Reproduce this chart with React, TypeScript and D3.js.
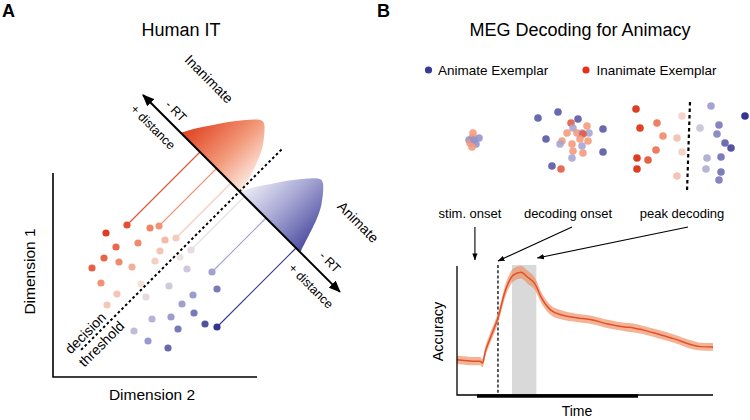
import React from 'react';
import * as d3 from 'd3';

const FONT = "'Liberation Sans', Arial, Helvetica, sans-serif";

// ---------------- Panel A data (Dimension 2, Dimension 1) ----------------
const inanimatePoints: [number, number][] = [
  [74, 152], [53, 144], [97, 149], [106, 151], [63, 130], [85, 134], [112, 137], [123, 139],
  [51, 119], [66, 115], [107, 126], [39, 109], [79, 110], [102, 116], [48, 94], [88, 93],
  [64, 83], [54, 72],
];
const animatePoints: [number, number][] = [
  [138, 127], [127, 120], [134, 108], [116, 91], [93, 80], [159, 105], [164, 88], [140, 82],
  [129, 73], [141, 64], [99, 58], [118, 60], [125, 48], [152, 53], [164, 50], [81, 46],
  [95, 36], [115, 29],
];
const inanimateLinked: [number, number][] = [[74, 152], [106, 151], [123, 139]];
const animateLinked: [number, number][] = [[138, 127], [159, 105], [164, 50]];
// distribution profile: [distance along axis, density height]
const distProfile: [number, number][] = [
  [0, 0], [8, 14.4], [17.4, 28.5], [26.9, 42.6], [37.5, 55.6], [43, 61.9], [46.9, 65.1],
  [50.1, 66.1], [53.5, 64.6], [57.2, 61.2], [61.6, 56.1], [69.4, 45], [75.2, 32.1],
  [80, 17.9], [84.6, 3.7], [86, 0],
];
const inanimateDistStart = -83;
const animateDistStart = 0;
const axisExtent: [number, number] = [-136.5, 142];
const thresholdExtent: [number, number] = [-224, 60]; // perpendicular extent of the decision threshold

// ---------------- Panel B data ----------------
// [x, y, shade]  shade: -1 inanimate (red) ... +1 animate (blue)
const earlyCluster: [number, number, number][] = [
  [22, 38, -0.5], [19, 40, 0.55], [23, 33, -0.5], [26, 44, 0.55], [20, 43, -0.5],
  [24, 40, 0.55], [22, 47, -0.5], [29, 38, 0.55],
];
const midCluster: [number, number, number][] = [
  [88, 18, 0.85], [108, 12, 0.85], [128, 19, 0.85], [96, 39, 0.85], [153, 29, 0.85],
  [153, 52, 0.85], [102, 66, 0.85],
  [121, 23, -0.85], [111, 69, -0.85],
  [123, 28, 0.45], [137, 26, -0.5], [117, 33, -0.5], [127, 33, -0.5], [132, 33, 0.45],
  [139, 33, 0.45], [133, 34, -0.85], [112, 41, -0.5], [130, 39, -0.5], [138, 41, -0.5],
  [110, 44, 0.45], [122, 44, -0.5], [132, 46, 0.45], [123, 51, -0.5], [133, 53, -0.5],
  [122, 58, 0.45],
];
const lateInanimate: [number, number][] = [
  [186, 9], [190, 28], [207, 23], [213, 36], [206, 50], [187, 58], [198, 60], [187, 69],
  [232, 16], [227, 38], [232, 52], [227, 76],
];
const lateAnimate: [number, number][] = [
  [261, 6], [295, 16], [250, 28], [269, 25], [267, 34], [275, 43], [281, 48], [257, 58],
  [271, 57], [256, 69], [271, 72], [269, 80],
];
const lateBoundary: [number, number][] = [[240, 2], [237, 92]];

const timeMs = [-70, -40, -10, 20, 30, 40, 60, 90, 120, 150, 180, 205, 235, 260, 295, 340, 390, 420, 455, 520, 585, 620, 655, 715, 780, 850, 880, 930];
const accuracy = [50.9, 50.7, 50.5, 50.5, 49.9, 53.3, 57.7, 63.9, 72.6, 77.2, 78.1, 76.6, 74.4, 70.1, 66.4, 64.8, 64.0, 63.7, 63.3, 62.0, 61.1, 60.8, 60.2, 58.9, 57.4, 55.5, 55.0, 54.9];
const accErr = [1.3, 1.3, 1.3, 1.3, 1.3, 1.5, 1.6, 1.7, 1.9, 2.0, 2.0, 2.0, 1.9, 1.7, 1.5, 1.4, 1.3, 1.3, 1.3, 1.3, 1.3, 1.4, 1.3, 1.3, 1.3, 1.3, 1.2, 1.2];
const stimBar: [number, number] = [8, 637];
const stimOnset = 0;
const decodingOnset = 90;
const peakWindow: [number, number] = [145, 240];

const shade = d3
  .scaleLinear<string>()
  .domain([-1, -0.5, 0, 0.5, 1])
  .range(['#df3d21', '#f2987a', '#f6ebe7', '#9c9cd0', '#35358f'])
  .clamp(true);

export default function App() {
  // ---------- Panel A scales ----------
  const xA = d3.scaleLinear().domain([0, 204]).range([53, 257]);
  const yA = d3.scaleLinear().domain([0, 204]).range([377, 173]);
  const SQ = Math.SQRT1_2;
  const proj = (s: number, h: number): [number, number] => [186.5 + (s + h) * SQ, 185.5 + (h - s) * SQ];
  const sOf = (p: [number, number]) => (p[0] - p[1] - 1) * SQ;
  const px = (p: [number, number]): [number, number] => [xA(p[0]), yA(p[1])];
  const colA = (p: [number, number]) => {
    const s = sOf(p);
    return shade(s < 0 ? s / 62 : s / 80);
  };
  const distPath = (start: number) => {
    const pts = distProfile.map(([u, h]) => px(proj(start + u, h)));
    return (d3.line().curve(d3.curveCatmullRom)(pts) || '') + 'Z';
  };
  const rStart = px(proj(inanimateDistStart, 0));
  const rEnd = px(proj(inanimateDistStart + 87, 0));
  const bStart = px(proj(animateDistStart, 0));
  const bEnd = px(proj(animateDistStart + 86, 0));
  const axA0 = px(proj(axisExtent[0], 0));
  const axA1 = px(proj(axisExtent[1], 0));
  const th0 = px(proj(0, thresholdExtent[0]));
  const th1 = px(proj(0, thresholdExtent[1]));

  // ---------- Panel B scales ----------
  const xB = d3.scaleLinear().domain([0, 300]).range([450, 750]);
  const yB = d3.scaleLinear().domain([0, 100]).range([100, 200]);
  const lateShade = (x: number) => shade((x - 238.5) / 50);

  const xT = d3.scaleLinear().domain([-70, 930]).range([457, 713]);
  const yAcc = d3.scaleLinear().domain([40, 80]).range([395, 266]);
  const lineGen = d3
    .line<number>()
    .x((_, i) => xT(timeMs[i]))
    .y((d) => yAcc(d))
    .curve(d3.curveMonotoneX);
  const areaGen = d3
    .area<number>()
    .x((_, i) => xT(timeMs[i]))
    .y0((d, i) => yAcc(d - accErr[i]))
    .y1((d, i) => yAcc(d + accErr[i]))
    .curve(d3.curveMonotoneX);

  const plotTop = yAcc.range()[1];
  const plotBottom = yAcc.range()[0];

  return (
    <svg
      width={750}
      height={420}
      viewBox="0 0 750 420"
      style={{ position: 'absolute', left: 0, top: 0, background: '#fff' }}
      fontFamily={FONT}
    >
      <defs>
        <marker id="bigHead" viewBox="0 0 12 10" refX="11" refY="5" markerWidth="12" markerHeight="10" markerUnits="userSpaceOnUse" orient="auto-start-reverse">
          <path d="M0,0 L12,5 L0,10 Z" fill="#000" />
        </marker>
        <marker id="smallHead" viewBox="0 0 8 6" refX="7.5" refY="3" markerWidth="7" markerHeight="6" markerUnits="userSpaceOnUse" orient="auto">
          <path d="M0,0 L8,3 L0,6 Z" fill="#000" />
        </marker>
        <linearGradient id="redGrad" gradientUnits="userSpaceOnUse" x1={rStart[0]} y1={rStart[1]} x2={rEnd[0]} y2={rEnd[1]}>
          <stop offset="0" stopColor="#e0401f" />
          <stop offset="0.55" stopColor="#f29878" />
          <stop offset="1" stopColor="#fdf0ea" />
        </linearGradient>
        <linearGradient id="blueGrad" gradientUnits="userSpaceOnUse" x1={bStart[0]} y1={bStart[1]} x2={bEnd[0]} y2={bEnd[1]}>
          <stop offset="0" stopColor="#eeeef8" />
          <stop offset="0.5" stopColor="#9d9dd0" />
          <stop offset="1" stopColor="#3e3e98" />
        </linearGradient>
      </defs>

      {/* ================= Panel A ================= */}
      <text x={2} y={17} fontSize={18} fontWeight="bold">A</text>
      <text x={181} y={36} fontSize={18} textAnchor="middle">Human IT</text>

      {/* projection lines */}
      {inanimateLinked.concat(animateLinked).map((p, i) => {
        const a = px(p);
        const b = px(proj(sOf(p), 0));
        return <line key={'pl' + i} x1={a[0]} y1={a[1]} x2={b[0]} y2={b[1]} stroke={colA(p)} strokeWidth={1.1} />;
      })}

      {/* distributions */}
      <path d={distPath(inanimateDistStart)} fill="url(#redGrad)" />
      <path d={distPath(animateDistStart)} fill="url(#blueGrad)" opacity={0.92} />

      {/* projection axis */}
      <line x1={axA0[0]} y1={axA0[1]} x2={axA1[0]} y2={axA1[1]} stroke="#000" strokeWidth={2} markerStart="url(#bigHead)" markerEnd="url(#bigHead)" />

      {/* dots */}
      {inanimatePoints.map((p, i) => (
        <circle key={'ri' + i} cx={xA(p[0])} cy={yA(p[1])} r={3.6} fill={colA(p)} />
      ))}
      {animatePoints.map((p, i) => (
        <circle key={'ba' + i} cx={xA(p[0])} cy={yA(p[1])} r={3.6} fill={colA(p)} />
      ))}

      {/* decision threshold */}
      <line x1={th0[0]} y1={th0[1]} x2={th1[0]} y2={th1[1]} stroke="#000" strokeWidth={2} strokeDasharray="2.6,2.6" />

      {/* axes */}
      <path d={`M${xA(0)},${yA(204)} V${yA(0)} H${xA(204)}`} fill="none" stroke="#000" strokeWidth={1.6} />
      <text transform="translate(35,271.5) rotate(-90)" fontSize={15.5} textAnchor="middle">Dimension 1</text>
      <text x={152} y={400} fontSize={15.5} textAnchor="middle">Dimension 2</text>

      {/* rotated labels */}
      <text transform="translate(209,79) rotate(45)" fontSize={14} textAnchor="middle" dy="0.35em">Inanimate</text>
      <text transform="translate(176,111) rotate(45)" fontSize={12.5} textAnchor="middle" dy="0.35em">- RT</text>
      <text transform="translate(153,127) rotate(45)" fontSize={12.5} textAnchor="middle" dy="0.35em">+ distance</text>
      <text transform="translate(358,222) rotate(45)" fontSize={14} textAnchor="middle" dy="0.35em">Animate</text>
      <text transform="translate(330,262) rotate(45)" fontSize={12.5} textAnchor="middle" dy="0.35em">- RT</text>
      <text transform="translate(311,286) rotate(45)" fontSize={12.5} textAnchor="middle" dy="0.35em">+ distance</text>
      <text transform="translate(85.5,333) rotate(-45)" fontSize={14} textAnchor="middle" dy="0.35em">decision</text>
      <text transform="translate(101.5,344) rotate(-45)" fontSize={14} textAnchor="middle" dy="0.35em">threshold</text>

      {/* ================= Panel B ================= */}
      <text x={377} y={17} fontSize={18} fontWeight="bold">B</text>
      <text x={580} y={36} fontSize={18} textAnchor="middle">MEG Decoding for Animacy</text>

      {/* legend */}
      <circle cx={428.5} cy={70} r={3.6} fill="#3a3a95" />
      <text x={438} y={74.5} fontSize={13.5}>Animate Exemplar</text>
      <circle cx={586} cy={70} r={3.6} fill="#e2301d" />
      <text x={596.5} y={74.5} fontSize={13.5}>Inanimate Exemplar</text>

      {/* clusters */}
      {earlyCluster.map((d, i) => (
        <circle key={'e' + i} cx={xB(d[0])} cy={yB(d[1])} r={3.8} fill={shade(d[2])} opacity={0.88} />
      ))}
      {midCluster.map((d, i) => (
        <circle key={'m' + i} cx={xB(d[0])} cy={yB(d[1])} r={3.8} fill={shade(d[2])} opacity={0.88} />
      ))}
      {lateInanimate.map((d, i) => (
        <circle key={'li' + i} cx={xB(d[0])} cy={yB(d[1])} r={3.8} fill={lateShade(d[0])} />
      ))}
      {lateAnimate.map((d, i) => (
        <circle key={'la' + i} cx={xB(d[0])} cy={yB(d[1])} r={3.8} fill={lateShade(d[0])} />
      ))}
      <line
        x1={xB(lateBoundary[0][0])} y1={yB(lateBoundary[0][1])}
        x2={xB(lateBoundary[1][0])} y2={yB(lateBoundary[1][1])}
        stroke="#000" strokeWidth={2.2} strokeDasharray="3.5,3"
      />

      {/* event labels and arrows */}
      <text x={470} y={218} fontSize={13} textAnchor="middle">stim. onset</text>
      <text x={568} y={218} fontSize={13} textAnchor="middle">decoding onset</text>
      <text x={682} y={218} fontSize={13} textAnchor="middle">peak decoding</text>
      <line x1={xT(stimOnset)} y1={227} x2={xT(stimOnset)} y2={260} stroke="#000" strokeWidth={1.1} markerEnd="url(#smallHead)" />
      <line x1={572} y1={227} x2={xT(decodingOnset)} y2={261} stroke="#000" strokeWidth={1.1} markerEnd="url(#smallHead)" />
      <line x1={688} y1={227} x2={xT(peakWindow[1]) + 1} y2={258} stroke="#000" strokeWidth={1.1} markerEnd="url(#smallHead)" />

      {/* accuracy plot */}
      <rect x={xT(peakWindow[0])} y={plotTop - 1} width={xT(peakWindow[1]) - xT(peakWindow[0])} height={plotBottom - plotTop + 1} fill="#d9d9d9" />
      <line x1={xT(decodingOnset)} y1={plotTop - 1} x2={xT(decodingOnset)} y2={plotBottom} stroke="#000" strokeWidth={1.3} strokeDasharray="3,2.2" />
      <path d={areaGen(accuracy) || ''} fill="#f08a5d" opacity={0.65} />
      <path d={lineGen(accuracy) || ''} fill="none" stroke="#e0502a" strokeWidth={1.5} />
      <path d={`M${xT(-70)},${plotTop} V${plotBottom} H${xT(930)}`} fill="none" stroke="#000" strokeWidth={1.3} />
      <line x1={xT(stimBar[0])} y1={plotBottom + 1} x2={xT(stimBar[1])} y2={plotBottom + 1} stroke="#000" strokeWidth={3.5} />
      <text transform="translate(443,331.5) rotate(-90)" fontSize={14.5} textAnchor="middle">Accuracy</text>
      <text x={577} y={416} fontSize={14} textAnchor="middle">Time</text>
    </svg>
  );
}
